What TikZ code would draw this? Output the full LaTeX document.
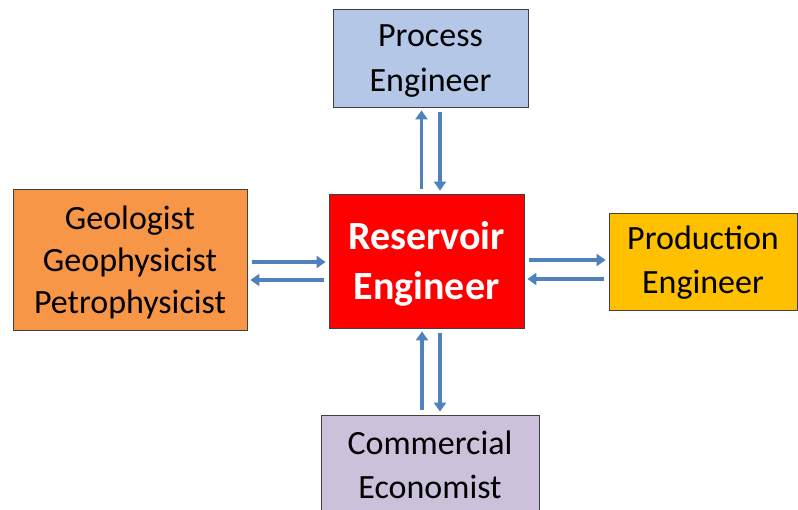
\documentclass[tikz,border=0pt]{standalone}
\usepackage{fontspec}
\setmainfont{Carlito}
\usetikzlibrary{arrows.meta}
\definecolor{procfill}{HTML}{B4C7E7}
\definecolor{geofill}{HTML}{F79646}
\definecolor{prodfill}{HTML}{FFC000}
\definecolor{comfill}{HTML}{CCC1DA}
\definecolor{resfill}{HTML}{FF0000}
\definecolor{arrcol}{HTML}{4F81BD}
\definecolor{edgecol}{HTML}{404040}
\tikzset{
  box/.style={draw=edgecol, line width=0.8pt, rectangle, inner sep=0pt},
  lbl/.style={align=center, inner sep=0pt, font=\fontsize{34}{44}\selectfont},
  arr/.style={draw=arrcol, line width=3.4pt, -{Triangle[length=9pt,width=12pt]},
    shorten <=5pt, shorten >=3pt},
}
\begin{document}
\begin{tikzpicture}[x=1pt,y=-1pt]
\useasboundingbox (0,0) rectangle (798,510);
\begin{scope}
\clip (0,0) rectangle (798,510);
\node[box, fill=procfill, minimum width=195pt, minimum height=98pt] (proc) at (430.5,58) {};
\node[lbl, font=\fontsize{34}{45}\selectfont] (proctxt) at ([yshift=-3pt]proc.center) {Process\\Engineer};
\node[box, fill=resfill, minimum width=195pt, minimum height=134pt] (res) at (426.5,261) {};
\node[lbl, text=white, font=\fontsize{40}{50}\selectfont\bfseries] (restxt) at ([yshift=-3pt]res.center) {Reservoir\\Engineer};
\node[box, fill=geofill, minimum width=234pt, minimum height=141pt] (geo) at (130,259.5) {};
\node[lbl, font=\fontsize{34}{42}\selectfont] (geotxt) at ([yshift=-3pt]geo.center) {Geologist\\Geophysicist\\Petrophysicist};
\node[box, fill=prodfill, minimum width=188pt, minimum height=97pt] (prod) at (703,261.5) {};
\node[lbl] (prodtxt) at ([yshift=-1pt]prod.center) {Production\\Engineer};
\node[box, fill=comfill, minimum width=218pt, minimum height=100pt] (com) at (430,465) {};
\node[lbl] (comtxt) at (com.center) {Commercial\\Economist};
\end{scope}
% top pair
\draw[arr] ([xshift=-9pt]proc.south |- res.north) -- ([xshift=-9pt]proc.south);
\draw[arr] ([xshift=9.5pt]proc.south) -- ([xshift=9.5pt]proc.south |- res.north);
% bottom pair
\draw[arr] ([xshift=-8pt]com.north) -- ([xshift=-8pt]com.north |- res.south);
\draw[arr] ([xshift=10pt]com.north |- res.south) -- ([xshift=10pt]com.north);
% left pair
\draw[arr] ([yshift=-1pt]res.west -| geo.east) -- ([yshift=-1pt]res.west);
\draw[arr] ([yshift=-19pt]res.west) -- ([yshift=-19pt]res.west -| geo.east);
% right pair
\draw[arr] ([yshift=1pt]res.east) -- ([yshift=1pt]res.east -| prod.west);
\draw[arr] ([yshift=-18pt]res.east -| prod.west) -- ([yshift=-18pt]res.east);
\end{tikzpicture}
\end{document}
